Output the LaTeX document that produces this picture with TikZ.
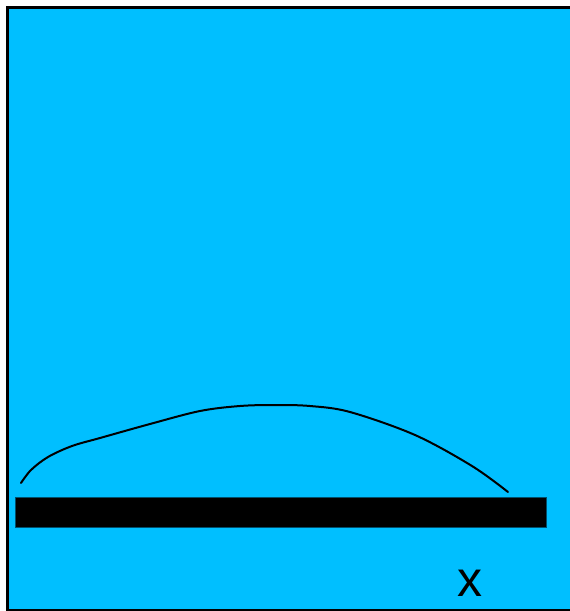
\documentclass[tikz,border=0pt]{standalone}
\usepackage{fontspec}
\setmainfont{Liberation Sans}
\definecolor{skyb}{RGB}{0,191,255}
\definecolor{bardge}{RGB}{0,80,110}
\begin{document}
\begin{tikzpicture}[x=1pt,y=-1pt,
  frame/.style={draw=black,fill=skyb,line width=2.2pt},
  barstyle/.style={fill=black,draw=bardge,line width=0.6pt},
  curvestyle/.style={draw=black,line width=2pt,line cap=round}]
\useasboundingbox (0,0) rectangle (570,611);
\begin{scope}
\clip (0,0) rectangle (570,611);
\path[frame] (7.5,7.5) rectangle (575,610.5);
\end{scope}
\path[barstyle] (15,497) rectangle (546,527);
\draw[curvestyle] plot[smooth,tension=0.55] coordinates {(21,483) (31,470) (48,457) (72,446) (100,438) (150,424) (200,411) (240,406) (275,405) (310,406) (350,412) (415,435) (472,466) (508,492)};
\node[font=\fontsize{50}{50}\selectfont,inner sep=0pt] (xlabel) at (469.5,583) {x};
\end{tikzpicture}
\end{document}
